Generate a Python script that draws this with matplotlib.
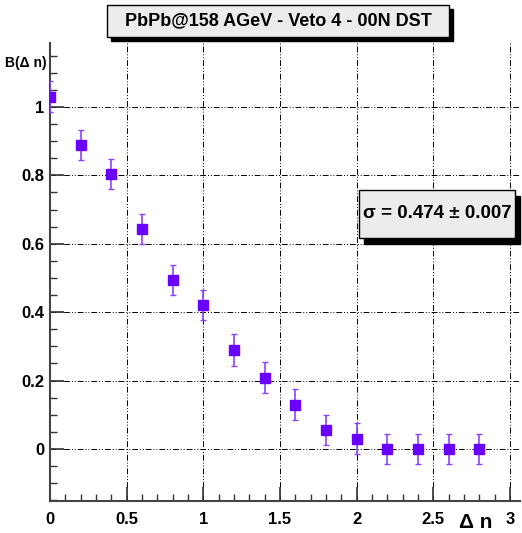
import matplotlib
matplotlib.use("Agg")
import matplotlib.pyplot as plt
from matplotlib.patches import Rectangle
import numpy as np
from matplotlib import font_manager

names = {f.name for f in font_manager.fontManager.ttflist}
fam = ["Liberation Sans Narrow"] if "Liberation Sans Narrow" in names else ["Liberation Sans"]
plt.rcParams['font.family'] = fam + ["DejaVu Sans"]

delta_n = [0.0, 0.2, 0.4, 0.6, 0.8, 1.0, 1.2, 1.4, 1.6, 1.8, 2.0, 2.2, 2.4, 2.6, 2.8]
b_vals = [1.03, 0.889, 0.804, 0.643, 0.494, 0.421, 0.289, 0.208, 0.129, 0.056, 0.03, 0.0, 0.0, 0.0, 0.0]
b_errs = [0.045, 0.043, 0.045, 0.045, 0.045, 0.045, 0.046, 0.045, 0.045, 0.044, 0.045, 0.044, 0.044, 0.044, 0.044]
xticks = [0, 0.5, 1, 1.5, 2, 2.5, 3]
xticklabels = ["0", "0.5", "1", "1.5", "2", "2.5", "3"]
yticks = [0, 0.2, 0.4, 0.6, 0.8, 1.0]
yticklabels = ["0", "0.2", "0.4", "0.6", "0.8", "1"]
title = "PbPb@158 AGeV - Veto 4 - 00N DST"
fit_text = "σ = 0.474 ± 0.007"

fig = plt.figure(figsize=(5.22, 5.33), dpi=100)
ax = fig.add_axes([50/522, 1-501/533, 470/522, (501-43)/533])
ax.set_xlim(0, 3.066)
ax.set_ylim(-0.152, 1.187)

ax.errorbar(delta_n, b_vals, yerr=b_errs, fmt='s', color='#6a00ff', ms=7,
            ecolor='#8a44ff', elinewidth=1.2, capsize=2, capthick=1.0, zorder=3)

ax.set_xticks(xticks)
ax.set_xticklabels(xticklabels)
ax.set_yticks(yticks)
ax.set_yticklabels(yticklabels)
ax.set_xticks(np.arange(0, 3.05, 0.1), minor=True)
ax.set_yticks(np.arange(-0.15, 1.19, 0.05), minor=True)
ax.tick_params(axis='both', which='major', direction='in', length=10, width=1.2,
               color='#333333', labelsize=12)
ax.tick_params(axis='both', which='minor', direction='in', length=5, width=1.0, color='#333333')
ax.tick_params(axis='x', pad=8)
ax.tick_params(axis='y', pad=4)
for lab in ax.get_xticklabels() + ax.get_yticklabels():
    lab.set_fontweight('bold')

ax.grid(True, which='major', color='black', linestyle=(0, (6, 2, 1, 2, 1, 2)), linewidth=0.7)
for s in ['top', 'right']:
    ax.spines[s].set_visible(False)
for s in ['left', 'bottom']:
    ax.spines[s].set_color('#444444')
    ax.spines[s].set_linewidth(1.5)

fig.text(5/522, 1-63/533, "B(Δ n)", fontsize=10, fontweight='bold', va='center', ha='left')
fig.text(476/522, 1-522/533, "Δ n", fontsize=15, fontweight='bold', va='center', ha='center')

# title box
tx0, ty0, tx1, ty1 = 107, 5, 449, 37
fig.patches.append(Rectangle(((tx0+4)/522, 1-(ty1+4)/533), (tx1-tx0)/522, (ty1-ty0)/533,
                             transform=fig.transFigure, facecolor='black', edgecolor='black', zorder=1))
fig.patches.append(Rectangle((tx0/522, 1-ty1/533), (tx1-tx0)/522, (ty1-ty0)/533,
                             transform=fig.transFigure, facecolor='#ececec', edgecolor='black', lw=1, zorder=2))
fig.text((tx0+tx1)/2/522, 1-(ty0+ty1)/2/533, title, fontsize=13, fontweight='bold',
         ha='center', va='center', zorder=3)

# fit box
bx0, by0, bx1, by1 = 359, 190, 515, 238
fig.patches.append(Rectangle(((bx0+5)/522, 1-(by1+6)/533), (bx1-bx0)/522, (by1-by0)/533,
                             transform=fig.transFigure, facecolor='black', edgecolor='black', zorder=4))
fig.patches.append(Rectangle((bx0/522, 1-by1/533), (bx1-bx0)/522, (by1-by0)/533,
                             transform=fig.transFigure, facecolor='#ececec', edgecolor='black', lw=1, zorder=5))
fig.text((bx0+bx1)/2/522, 1-(by0+by1)/2/533, fit_text, fontsize=13.5, fontweight='bold',
         ha='center', va='center', zorder=6)

fig.savefig("out.png", dpi=100)
